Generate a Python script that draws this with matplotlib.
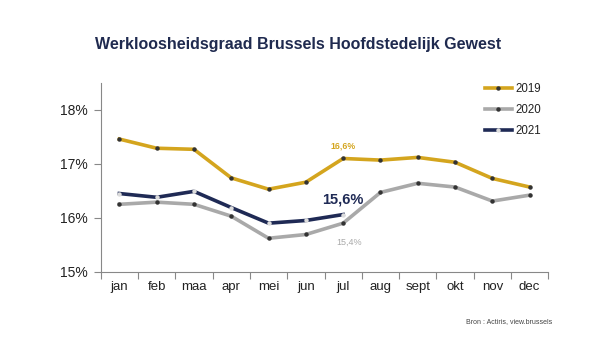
import matplotlib
matplotlib.use("Agg")
import matplotlib.pyplot as plt
from matplotlib.lines import Line2D

months = ["jan", "feb", "maa", "apr", "mei", "jun", "jul", "aug", "sept", "okt", "nov", "dec"]
v2019 = [17.46, 17.29, 17.27, 16.74, 16.53, 16.66, 17.10, 17.07, 17.12, 17.03, 16.73, 16.57]
v2020 = [16.25, 16.29, 16.25, 16.03, 15.62, 15.69, 15.90, 16.47, 16.64, 16.57, 16.31, 16.42]
v2021 = [16.45, 16.38, 16.49, 16.19, 15.90, 15.95, 16.06]
yticks = [15, 16, 17, 18]
ytick_labels = ["15%", "16%", "17%", "18%"]

c2019 = "#D4A51E"
c2020 = "#A9A9A9"
c2021 = "#1F2A55"
navy_title = "#1F2A4F"

plt.rcParams['font.family'] = ['Liberation Sans', 'DejaVu Sans']

fig = plt.figure(figsize=(6, 3.5), dpi=100)
ax = fig.add_axes([100.7/600, 78.3/350, 447.6/600, (271.7-83)/350])

x = list(range(len(months)))
ax.plot(x, v2019, color=c2019, lw=2.6, marker='o', ms=2.2, mfc='#333333', mec='#333333', zorder=3)
ax.plot(x, v2020, color=c2020, lw=2.6, marker='o', ms=2.2, mfc='#333333', mec='#333333', zorder=3)
ax.plot(x[:len(v2021)], v2021, color=c2021, lw=2.6, marker='o', ms=2.2, mfc='#dddddd', mec='#dddddd', zorder=4)

ax.set_xlim(-0.5, len(months) - 0.5)
ax.set_ylim(15, 18.5)
ax.set_yticks(yticks)
ax.set_yticklabels(ytick_labels, fontsize=10, color='#222222')
ax.set_xticks(x)
ax.set_xticklabels(months, fontsize=9.5, color='#222222')
ax.set_xticks([i - 0.5 for i in range(len(months) + 1)], minor=True)
ax.tick_params(axis='x', which='major', length=0, pad=7)
ax.tick_params(axis='x', which='minor', length=5, color='#888888', width=0.8)
ax.tick_params(axis='y', length=5, color='#888888', width=0.8, pad=4)

for s in ['top', 'right']:
    ax.spines[s].set_visible(False)
for s in ['left', 'bottom']:
    ax.spines[s].set_color('#888888')
    ax.spines[s].set_linewidth(0.8)

# annotations
ax.text(6, 17.33, "16,6%", color=c2019, fontsize=6.3, fontweight='bold', ha='center', va='center')
ax.text(6, 16.33, "15,6%", color=c2021, fontsize=10.5, fontweight='bold', ha='center', va='center')
ax.text(6.15, 15.54, "15,4%", color=c2020, fontsize=6.5, ha='center', va='center')

handles = [
    Line2D([], [], color=c2019, lw=2.6, marker='o', ms=2.2, mfc='#333333', mec='#333333'),
    Line2D([], [], color=c2020, lw=2.6, marker='o', ms=2.2, mfc='#333333', mec='#333333'),
    Line2D([], [], color=c2021, lw=2.6, marker='o', ms=2.2, mfc='#dddddd', mec='#dddddd'),
]
leg = fig.legend(handles, ["2019", "2020", "2021"], loc='upper left',
                 bbox_to_anchor=(485/600, (350-83)/350), frameon=False,
                 fontsize=8.3, handlelength=2.3, handletextpad=0.3,
                 labelspacing=0.8, borderpad=0, borderaxespad=0)
for t in leg.get_texts():
    t.set_color('#222222')

fig.text(0.497, (350-44)/350, "Werkloosheidsgraad Brussels Hoofdstedelijk Gewest",
         ha='center', va='center', fontsize=11.5, fontweight='bold', color=navy_title)
fig.text(552/600, (350-322)/350, "Bron : Actiris, view.brussels", ha='right', va='center',
         fontsize=5, color='#444444')

fig.savefig("out.png", dpi=100)
